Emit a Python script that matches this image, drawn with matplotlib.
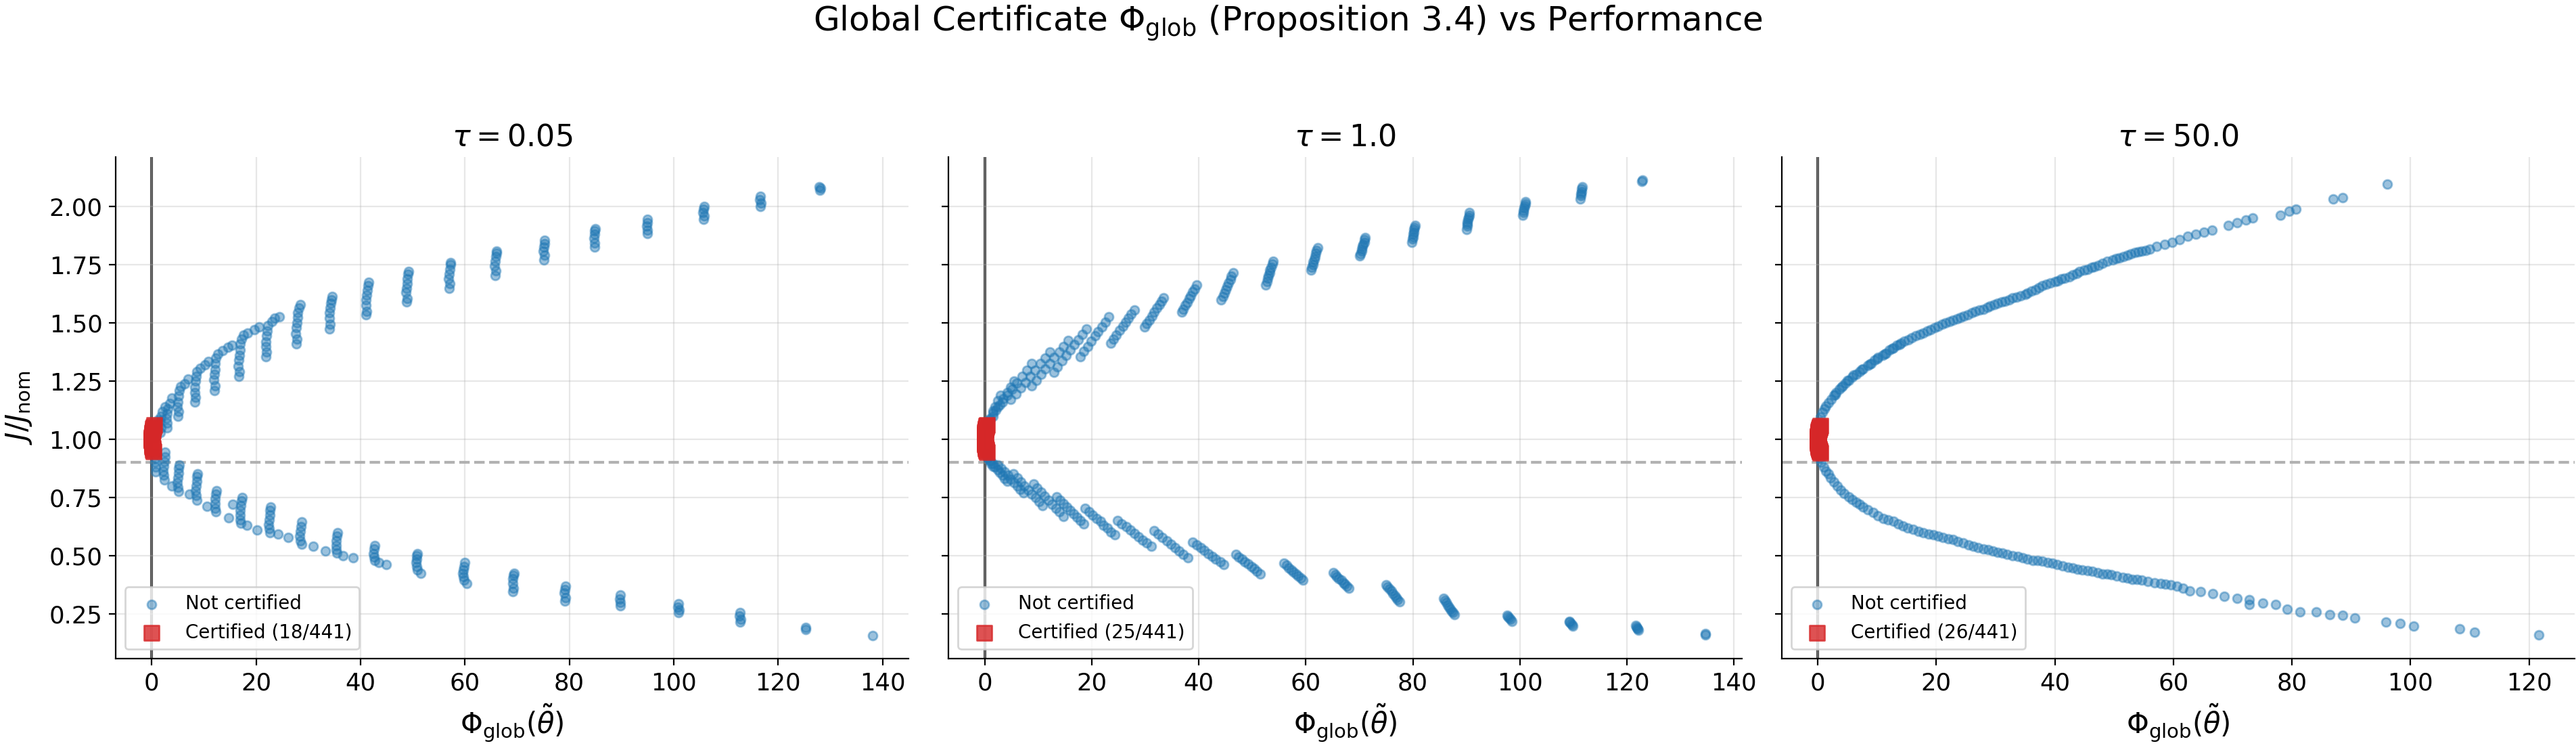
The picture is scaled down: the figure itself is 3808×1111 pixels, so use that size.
import numpy as np
import matplotlib
matplotlib.use('Agg')
import matplotlib.pyplot as plt

# tau values shown in the three panels
taus = ['0.05', '1.0', '50.0']
n_total = 441
threshold = 0.9

# ---- tau = 0.05 : not certified points (phi, J/J_nom) ----
upper_1 = [
    (128.0, 2.070), (128.1, 2.078), (127.9, 2.085),
    (116.6, 2.000), (116.7, 2.015), (116.5, 2.030), (116.6, 2.045),
    (105.7, 1.945), (105.8, 1.960), (105.6, 1.975), (105.7, 1.990), (105.8, 2.000),
    (94.9, 1.885), (95.0, 1.900), (94.8, 1.915), (94.9, 1.930), (95.0, 1.945),
    (84.8, 1.825), (84.9, 1.845), (84.7, 1.865), (84.8, 1.880), (84.9, 1.895), (85.0, 1.905),
    (75.1, 1.770), (75.2, 1.790), (75.0, 1.810), (75.1, 1.825), (75.2, 1.840), (75.3, 1.855),
    (65.8, 1.705), (65.9, 1.725), (65.7, 1.745), (65.8, 1.765), (65.9, 1.785), (66.0, 1.800), (66.1, 1.810),
    (57.0, 1.650), (57.1, 1.670), (56.9, 1.690), (57.0, 1.710), (57.1, 1.730), (57.2, 1.750), (57.3, 1.760),
    (48.8, 1.590), (48.9, 1.605), (48.7, 1.630), (48.8, 1.650), (48.9, 1.670), (49.0, 1.690), (49.1, 1.710), (49.2, 1.720),
    (41.1, 1.535), (41.2, 1.550), (41.0, 1.575), (41.1, 1.600), (41.2, 1.620), (41.3, 1.640), (41.4, 1.660), (41.5, 1.675),
    (34.1, 1.475), (34.2, 1.495), (34.0, 1.520), (34.1, 1.545), (34.2, 1.565), (34.3, 1.585), (34.4, 1.600), (34.5, 1.615),
    (27.7, 1.410), (27.8, 1.430), (27.6, 1.455), (27.7, 1.480), (27.8, 1.500), (27.9, 1.525), (28.0, 1.545), (28.2, 1.565), (28.5, 1.580),
    (21.9, 1.355), (22.0, 1.375), (21.8, 1.400), (21.9, 1.420), (22.0, 1.445), (22.1, 1.465), (22.3, 1.490), (23.0, 1.505), (23.6, 1.520), (24.5, 1.528),
    (16.7, 1.270), (16.8, 1.290), (16.6, 1.315), (16.7, 1.340), (16.8, 1.360), (16.9, 1.385), (17.0, 1.410), (17.2, 1.430), (17.6, 1.448), (18.4, 1.458), (19.6, 1.470), (20.6, 1.482),
    (12.0, 1.210), (12.1, 1.230), (11.9, 1.255), (12.0, 1.280), (12.1, 1.300), (12.2, 1.325), (12.3, 1.350), (12.7, 1.368), (13.6, 1.380), (14.6, 1.395), (15.4, 1.405),
    (8.3, 1.160), (8.4, 1.180), (8.2, 1.200), (8.3, 1.225), (8.4, 1.250), (8.5, 1.270), (8.7, 1.290), (9.3, 1.305), (10.2, 1.320), (10.9, 1.335),
    (5.0, 1.100), (5.1, 1.120), (4.9, 1.140), (5.0, 1.160), (5.1, 1.185), (5.3, 1.210), (5.6, 1.228), (6.3, 1.240), (7.0, 1.258),
    (2.9, 1.050), (3.0, 1.070), (2.8, 1.090), (2.9, 1.110), (3.1, 1.130), (3.4, 1.155), (3.9, 1.178),
    (1.7, 1.030), (1.8, 1.050), (1.6, 1.080), (1.8, 1.100), (2.1, 1.120), (2.5, 1.140),
    (0.6, 1.010), (0.7, 1.030), (0.9, 1.060), (1.2, 1.085),
]
lower_1 = [
    (138.1, 0.156),
    (125.2, 0.183), (125.3, 0.192),
    (112.7, 0.215), (112.8, 0.228), (112.6, 0.242), (112.7, 0.255),
    (100.9, 0.255), (101.0, 0.268), (100.8, 0.280), (100.9, 0.295),
    (89.7, 0.285), (89.8, 0.300), (89.6, 0.315), (89.7, 0.330),
    (79.1, 0.305), (79.2, 0.320), (79.0, 0.340), (79.1, 0.355), (79.2, 0.370),
    (69.2, 0.345), (69.3, 0.360), (69.1, 0.380), (69.2, 0.400), (69.3, 0.415), (69.4, 0.425),
    (60.3, 0.380), (59.8, 0.395), (59.7, 0.410), (59.6, 0.425), (59.7, 0.440), (59.8, 0.455), (59.9, 0.470),
    (51.5, 0.425), (50.9, 0.440), (50.7, 0.455), (50.6, 0.470), (50.7, 0.485), (50.8, 0.500), (50.9, 0.510),
    (44.9, 0.462), (43.5, 0.470), (42.7, 0.480), (42.6, 0.495), (42.5, 0.510), (42.6, 0.530), (42.7, 0.545),
    (38.6, 0.491), (36.6, 0.500), (35.5, 0.512), (35.4, 0.525), (35.3, 0.545), (35.4, 0.565), (35.5, 0.585), (35.6, 0.600), (33.3, 0.520),
    (30.9, 0.540), (28.7, 0.550), (28.5, 0.565), (28.4, 0.585), (28.5, 0.605), (28.6, 0.625), (28.7, 0.645), (26.2, 0.580), (24.2, 0.592),
    (22.6, 0.600), (22.5, 0.615), (22.4, 0.635), (22.5, 0.655), (22.6, 0.675), (22.7, 0.695), (22.8, 0.710), (20.2, 0.612), (18.2, 0.630),
    (17.1, 0.640), (17.0, 0.655), (16.9, 0.675), (17.0, 0.695), (17.1, 0.715), (17.2, 0.735), (17.3, 0.750), (14.7, 0.662), (15.5, 0.720),
    (12.3, 0.690), (12.2, 0.705), (12.1, 0.725), (12.2, 0.745), (12.3, 0.765), (12.4, 0.780), (10.6, 0.712),
    (8.6, 0.740), (8.5, 0.760), (8.4, 0.780), (8.5, 0.800), (8.6, 0.820), (8.7, 0.840), (8.8, 0.852), (7.2, 0.765),
    (5.1, 0.775), (5.0, 0.795), (4.9, 0.815), (5.0, 0.835), (5.1, 0.855), (5.2, 0.875), (5.3, 0.890), (3.9, 0.800),
    (2.4, 0.825), (2.3, 0.845), (2.2, 0.865), (2.3, 0.885), (2.4, 0.905), (2.5, 0.925), (2.6, 0.945),
    (0.8, 0.860), (0.7, 0.880), (0.6, 0.900), (0.7, 0.920), (0.8, 0.940),
]
cert_phi_1 = [0.35, 0.28, 0.20, 0.15, 0.10, 0.06, 0.03, 0.01, 0.00,
              0.00, 0.02, 0.05, 0.09, 0.14, 0.20, 0.27, 0.35, 0.44]
cert_perf_1 = [0.948, 0.955, 0.962, 0.968, 0.975, 0.981, 0.987, 0.993, 0.998,
               1.003, 1.009, 1.016, 1.023, 1.030, 1.038, 1.046, 1.054, 1.062]

# ---- tau = 1.0 ----
upper_2 = [
    (122.9, 2.115), (122.8, 2.108),
    (111.6, 2.086), (111.5, 2.076), (111.5, 2.066), (111.4, 2.056), (111.4, 2.047), (111.3, 2.032),
    (101.0, 2.022), (101.0, 2.012), (100.9, 2.003), (100.8, 1.994), (100.7, 1.984), (100.6, 1.974), (100.5, 1.964),
    (90.5, 1.974), (90.5, 1.964), (90.4, 1.954), (90.3, 1.944), (90.2, 1.935), (90.2, 1.925), (90.1, 1.915), (90.0, 1.901),
    (80.4, 1.920), (80.3, 1.910), (80.2, 1.901), (80.2, 1.891), (80.1, 1.881), (80.0, 1.871), (79.9, 1.862), (79.8, 1.847),
    (71.1, 1.867), (71.0, 1.857), (70.9, 1.847), (70.7, 1.837), (70.6, 1.828), (70.5, 1.818), (70.4, 1.808), (70.2, 1.798), (70.1, 1.789),
    (62.2, 1.823), (62.0, 1.811), (61.9, 1.799), (61.7, 1.786), (61.6, 1.774), (61.4, 1.762), (61.3, 1.750), (61.1, 1.738), (61.0, 1.726),
    (53.9, 1.765), (53.7, 1.752), (53.5, 1.740), (53.3, 1.728), (53.2, 1.716), (53.0, 1.704), (52.9, 1.692), (52.7, 1.677), (52.5, 1.662),
    (46.4, 1.716), (46.1, 1.701), (45.9, 1.687), (45.6, 1.672), (45.3, 1.658), (45.0, 1.643), (44.8, 1.628), (44.5, 1.613), (44.2, 1.599),
    (39.6, 1.662), (39.2, 1.647), (38.9, 1.633), (38.5, 1.618), (38.2, 1.604), (37.8, 1.589), (37.5, 1.575), (37.1, 1.560), (36.8, 1.546),
    (33.4, 1.609), (33.0, 1.594), (32.6, 1.580), (32.1, 1.563), (31.7, 1.546), (31.2, 1.529), (30.8, 1.512), (30.3, 1.497), (29.9, 1.482),
    (28.0, 1.555), (27.4, 1.538), (26.9, 1.521), (26.3, 1.504), (25.8, 1.487), (25.2, 1.467), (24.6, 1.448), (24.1, 1.431), (23.6, 1.414),
    (23.2, 1.526), (22.5, 1.504), (21.9, 1.482), (21.2, 1.463), (20.6, 1.444), (19.9, 1.422), (19.2, 1.400), (18.5, 1.378), (17.9, 1.356),
    (19.0, 1.473), (18.2, 1.451), (17.5, 1.429), (16.7, 1.407), (16.0, 1.385), (15.2, 1.361), (14.4, 1.337), (13.6, 1.312), (12.9, 1.288),
    (15.6, 1.424), (14.7, 1.400), (13.9, 1.375), (13.0, 1.351), (12.2, 1.327), (11.3, 1.302), (10.5, 1.278), (9.6, 1.254), (8.8, 1.230),
    (12.2, 1.375), (11.3, 1.350), (10.4, 1.326), (9.4, 1.298), (8.5, 1.270), (7.6, 1.245), (6.7, 1.220), (5.8, 1.196), (4.9, 1.172),
    (8.8, 1.327), (7.9, 1.298), (7.0, 1.270), (6.0, 1.242), (5.1, 1.215), (4.2, 1.188), (3.3, 1.160), (2.4, 1.140), (1.6, 1.123),
    (5.5, 1.250), (4.8, 1.225), (4.2, 1.200), (3.5, 1.175), (2.8, 1.150), (2.1, 1.125), (1.5, 1.100), (0.9, 1.085), (0.5, 1.070),
    (3.0, 1.190), (2.5, 1.165), (2.0, 1.140), (1.5, 1.115), (1.0, 1.090), (0.6, 1.077), (0.3, 1.065),
]
lower_2 = [
    (134.7, 0.161), (134.6, 0.166),
    (121.6, 0.200), (121.7, 0.195), (121.9, 0.190), (122.0, 0.185), (122.1, 0.180),
    (109.2, 0.219), (109.3, 0.214), (109.5, 0.210), (109.7, 0.204), (109.9, 0.199),
    (97.6, 0.243), (97.8, 0.238), (98.0, 0.232), (98.2, 0.226), (98.5, 0.219),
    (85.7, 0.316), (86.0, 0.307), (86.2, 0.298), (86.5, 0.289), (86.7, 0.280), (87.0, 0.271), (87.2, 0.263), (87.5, 0.255), (87.7, 0.248),
    (75.0, 0.375), (75.3, 0.366), (75.6, 0.357), (76.0, 0.348), (76.3, 0.338), (76.6, 0.329), (76.9, 0.320), (77.2, 0.311), (77.5, 0.302),
    (65.1, 0.428), (65.5, 0.420), (65.8, 0.411), (66.2, 0.402), (66.6, 0.394), (67.0, 0.385), (67.3, 0.377), (67.7, 0.368), (68.0, 0.360),
    (55.9, 0.467), (56.4, 0.458), (56.8, 0.449), (57.3, 0.440), (57.7, 0.430), (58.2, 0.421), (58.6, 0.412), (59.1, 0.403), (59.5, 0.394),
    (46.9, 0.506), (47.5, 0.495), (48.1, 0.485), (48.6, 0.475), (49.2, 0.465), (49.8, 0.454), (50.4, 0.444), (50.9, 0.433), (51.5, 0.423),
    (38.9, 0.559), (39.6, 0.547), (40.3, 0.535), (41.0, 0.522), (41.8, 0.510), (42.5, 0.498), (43.2, 0.486), (44.0, 0.474), (44.7, 0.462),
    (31.6, 0.608), (32.4, 0.593), (33.2, 0.579), (34.0, 0.564), (34.8, 0.550), (35.5, 0.535), (36.3, 0.520), (37.1, 0.505), (37.9, 0.491),
    (24.8, 0.652), (25.6, 0.638), (26.4, 0.624), (27.2, 0.610), (28.0, 0.596), (28.7, 0.582), (29.5, 0.568), (30.3, 0.554), (31.1, 0.540),
    (18.8, 0.705), (19.5, 0.690), (20.2, 0.676), (20.9, 0.661), (21.6, 0.647), (22.2, 0.632), (22.9, 0.618), (23.6, 0.603), (24.3, 0.589),
    (13.5, 0.754), (14.1, 0.740), (14.7, 0.725), (15.4, 0.710), (16.0, 0.696), (16.6, 0.681), (17.2, 0.666), (17.9, 0.651), (18.5, 0.637),
    (9.1, 0.807), (9.8, 0.790), (10.5, 0.772), (11.2, 0.755), (11.9, 0.738), (12.6, 0.721), (13.3, 0.705), (14.0, 0.688), (14.7, 0.670),
    (5.4, 0.851), (6.1, 0.834), (6.8, 0.817), (7.4, 0.800), (8.1, 0.783), (8.8, 0.766), (9.5, 0.749), (10.1, 0.732), (10.8, 0.715),
    (2.5, 0.890), (3.1, 0.875), (3.7, 0.860), (4.3, 0.845), (4.9, 0.830), (5.5, 0.815), (6.1, 0.800), (6.6, 0.785), (7.2, 0.770),
    (0.6, 0.920), (1.0, 0.907), (1.5, 0.895), (2.0, 0.882), (2.4, 0.870), (2.8, 0.857), (3.3, 0.845), (3.7, 0.832), (4.2, 0.820),
    (0.3, 0.935), (0.6, 0.922), (0.9, 0.910), (1.2, 0.897), (1.6, 0.885),
]
cert_phi_2 = [0.40, 0.34, 0.28, 0.23, 0.18, 0.14, 0.10, 0.07, 0.04, 0.02, 0.01, 0.00, 0.00,
              0.00, 0.01, 0.02, 0.04, 0.07, 0.10, 0.14, 0.18, 0.23, 0.28, 0.34, 0.40]
cert_perf_2 = [0.946, 0.951, 0.956, 0.961, 0.966, 0.971, 0.976, 0.981, 0.986, 0.990, 0.995, 0.999, 1.003,
               1.008, 1.012, 1.017, 1.022, 1.027, 1.032, 1.037, 1.042, 1.047, 1.052, 1.057, 1.062]

# ---- tau = 50.0 ----
upper_3 = [
    (96.1, 2.097), (88.5, 2.039), (86.9, 2.032), (80.7, 1.990), (79.5, 1.979), (78.0, 1.964),
    (73.4, 1.951), (72.2, 1.942), (70.7, 1.930), (69.2, 1.920), (66.5, 1.898), (65.2, 1.889),
    (63.8, 1.881), (62.4, 1.874), (61.0, 1.857), (59.8, 1.847), (58.5, 1.838), (57.2, 1.828),
    (56.0, 1.818), (54.6, 1.808), (53.5, 1.802), (52.2, 1.792), (50.9, 1.779), (49.7, 1.772),
    (48.0, 1.755), (46.7, 1.743), (45.5, 1.731), (44.2, 1.721), (43.0, 1.706), (41.7, 1.692),
    (40.5, 1.682), (39.2, 1.672), (37.9, 1.660), (36.7, 1.643), (35.4, 1.628), (34.2, 1.617),
    (32.9, 1.607), (31.6, 1.594), (30.4, 1.585), (29.1, 1.572), (27.9, 1.560), (26.6, 1.549),
    (25.3, 1.536), (24.1, 1.523), (22.8, 1.512), (21.6, 1.500), (20.3, 1.487), (19.1, 1.471),
    (17.8, 1.458), (16.5, 1.444), (15.3, 1.429), (14.0, 1.412), (12.8, 1.393), (11.5, 1.371),
    (10.2, 1.351), (9.0, 1.327), (7.7, 1.303), (6.5, 1.278), (5.2, 1.254), (4.2, 1.230),
    (3.1, 1.200), (2.3, 1.171), (1.4, 1.142), (0.8, 1.118), (0.5, 1.095), (0.3, 1.075),
    (1.1, 1.130), (1.8, 1.158), (2.7, 1.188), (3.6, 1.216), (4.7, 1.243), (5.8, 1.268),
    (7.1, 1.292), (8.4, 1.317), (9.6, 1.340), (10.9, 1.362), (12.1, 1.384), (13.4, 1.404),
    (14.6, 1.422), (15.9, 1.437), (17.2, 1.452), (18.5, 1.466), (19.7, 1.480), (21.0, 1.494),
    (22.2, 1.507), (23.5, 1.518), (24.7, 1.530), (26.0, 1.543), (27.3, 1.556), (28.6, 1.567),
    (29.8, 1.578), (31.0, 1.590), (32.3, 1.600), (33.6, 1.612), (35.0, 1.624), (36.1, 1.636),
    (37.3, 1.652), (38.6, 1.667), (40.0, 1.678), (41.1, 1.688), (42.4, 1.699), (43.7, 1.714),
    (45.0, 1.727), (46.2, 1.738), (47.4, 1.749), (48.8, 1.764), (50.3, 1.776), (51.6, 1.786),
    (52.8, 1.797), (54.1, 1.805), (55.3, 1.813),
    (3.0, 1.192), (4.0, 1.224), (5.0, 1.252), (6.1, 1.276), (7.4, 1.300), (8.8, 1.324),
    (10.0, 1.345), (11.3, 1.368), (12.6, 1.389), (13.8, 1.408),
]
lower_3 = [
    (121.6, 0.161), (110.8, 0.172), (108.3, 0.185), (100.5, 0.197), (98.2, 0.209), (95.8, 0.214),
    (90.6, 0.233), (88.5, 0.243), (86.4, 0.248), (84.1, 0.258), (81.4, 0.258), (79.2, 0.269),
    (77.2, 0.292), (75.1, 0.297), (72.8, 0.311), (72.8, 0.292), (70.7, 0.316), (68.6, 0.326),
    (66.6, 0.336), (64.6, 0.345), (62.7, 0.350), (60.6, 0.370), (58.7, 0.379), (56.8, 0.384),
    (54.7, 0.394), (53.0, 0.399), (51.4, 0.406), (49.5, 0.418), (48.0, 0.423), (46.3, 0.433),
    (44.6, 0.438), (43.0, 0.447), (41.3, 0.457), (39.6, 0.467), (37.9, 0.477), (36.3, 0.481),
    (34.6, 0.491), (32.9, 0.501), (31.2, 0.511), (29.5, 0.520), (27.9, 0.530), (26.2, 0.540),
    (24.5, 0.554), (22.8, 0.569), (21.1, 0.579), (19.5, 0.589), (17.8, 0.598), (16.1, 0.613),
    (14.4, 0.627), (12.8, 0.647), (11.1, 0.661), (9.4, 0.686), (7.7, 0.710), (6.5, 0.730),
    (5.2, 0.754), (3.9, 0.783), (2.7, 0.817), (1.8, 0.851), (1.0, 0.880), (0.6, 0.900),
    (0.3, 0.920),
    (1.4, 0.865), (2.2, 0.835), (3.3, 0.800), (4.5, 0.768), (5.8, 0.742), (7.1, 0.720),
    (8.5, 0.698), (10.2, 0.673), (11.9, 0.654), (13.6, 0.637), (15.2, 0.620), (17.0, 0.606),
    (18.7, 0.594), (20.3, 0.584), (22.0, 0.574), (23.6, 0.561), (25.4, 0.547), (27.0, 0.535),
    (28.7, 0.525), (30.4, 0.516), (32.0, 0.506), (33.8, 0.496), (35.4, 0.486), (37.1, 0.479),
    (38.8, 0.472), (40.4, 0.462), (42.2, 0.452), (43.8, 0.443), (45.5, 0.436), (47.2, 0.428),
    (48.8, 0.421), (50.4, 0.412), (52.2, 0.403), (53.9, 0.397), (55.7, 0.389), (57.8, 0.381),
    (59.6, 0.374), (61.6, 0.360),
]
cert_phi_3 = [0.45, 0.38, 0.32, 0.27, 0.22, 0.17, 0.13, 0.09, 0.06, 0.04, 0.02, 0.01, 0.00,
              0.00, 0.01, 0.02, 0.04, 0.06, 0.09, 0.13, 0.17, 0.22, 0.27, 0.32, 0.38, 0.45]
cert_perf_3 = [0.942, 0.947, 0.951, 0.956, 0.961, 0.965, 0.970, 0.975, 0.979, 0.984, 0.989, 0.993, 0.998,
               1.002, 1.007, 1.012, 1.016, 1.021, 1.026, 1.030, 1.035, 1.040, 1.044, 1.049, 1.054, 1.058]

panels = [
    (upper_1 + lower_1, cert_phi_1, cert_perf_1),
    (upper_2 + lower_2, cert_phi_2, cert_perf_2),
    (upper_3 + lower_3, cert_phi_3, cert_perf_3),
]

# draw plot
fig, axes = plt.subplots(1, 3, figsize=(19.04, 5.555), dpi=200, sharey=True)
fig.subplots_adjust(left=0.0449, right=0.9995, bottom=0.1242, top=0.7912, wspace=0.0503)

for ax, tau, (pts, c_phi, c_perf) in zip(axes, taus, panels):
    pts = np.array(pts)
    ax.scatter(pts[:, 0], pts[:, 1], s=22, c='#1f77b4', alpha=0.45, label='Not certified', zorder=2)
    ax.scatter(c_phi, c_perf, s=60, c='#d62728', marker='s', alpha=0.8,
               label='Certified (%d/%d)' % (len(c_phi), n_total), zorder=3)
    ax.axvline(0, color='k', lw=1.5, alpha=0.7, zorder=1)
    ax.axhline(threshold, color='gray', ls='--', lw=1.5, alpha=0.6, zorder=1)
    ax.set_title(r'$\tau = %s$' % tau, fontsize=16)
    ax.set_xlabel(r'$\Phi_{\mathrm{glob}}(\tilde{\theta})$', fontsize=15)
    ax.grid(True, alpha=0.3)
    ax.spines['top'].set_visible(False)
    ax.spines['right'].set_visible(False)
    ax.tick_params(labelsize=12.8)
    ax.legend(loc='lower left', fontsize=10)

axes[0].set_ylabel(r'$J/J_{\mathrm{nom}}$', fontsize=15, labelpad=8)
fig.suptitle(r'Global Certificate $\Phi_{\mathrm{glob}}$ (Proposition 3.4) vs Performance',
             fontsize=18, y=0.995, va='top')

plt.savefig('out.png', dpi=200)
